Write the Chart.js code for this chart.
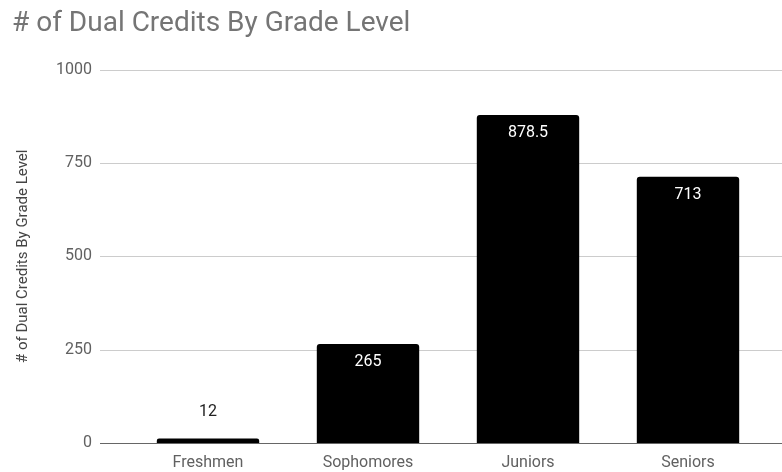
<!DOCTYPE html>
<html>
<head>
<meta charset="utf-8">
<script src="https://cdn.jsdelivr.net/npm/chart.js@4"></script>
<style>
  html, body { margin: 0; padding: 0; background: #fff; overflow: hidden; }
  #wrap { position: absolute; left: 0; top: 0; width: 782px; height: 472px; }
  canvas { display: block; }
</style>
</head>
<body>
<div id="wrap"><canvas id="creditsChart"></canvas></div>
<script>
// chart data
const grades = ['Freshmen', 'Sophomores', 'Juniors', 'Seniors'];
const credits = [12, 265, 878.5, 713];
const yTicks = [0, 250, 500, 750, 1000];

const chartTitle = '# of Dual Credits By Grade Level';
const axisTitle = '# of Dual Credits By Grade Level';

// horizontal grid lines that run past the plot area, like the original
const gridLines = {
  id: 'gridLines',
  beforeDatasetsDraw(chart) {
    const { ctx, scales: { y } } = chart;
    ctx.save();
    ctx.lineWidth = 1;
    ctx.strokeStyle = '#cccccc';
    yTicks.forEach(v => {
      if (v === 0) return;
      const py = Math.round(y.getPixelForValue(v)) + 0.5;
      ctx.beginPath();
      ctx.moveTo(100, py);
      ctx.lineTo(chart.width, py);
      ctx.stroke();
    });
    ctx.restore();
  },
  afterDatasetsDraw(chart) {
    const { ctx, scales: { y } } = chart;
    const py = Math.round(y.getPixelForValue(0)) + 0.5;
    ctx.save();
    ctx.strokeStyle = '#666666';
    ctx.lineWidth = 1;
    ctx.beginPath();
    ctx.moveTo(100, py);
    ctx.lineTo(chart.width, py);
    ctx.stroke();
    ctx.restore();
  }
};

// value labels on the bars
const barLabels = {
  id: 'barLabels',
  afterDatasetsDraw(chart) {
    const { ctx } = chart;
    const meta = chart.getDatasetMeta(0);
    ctx.save();
    ctx.font = '16px Roboto';
    ctx.textAlign = 'center';
    ctx.textBaseline = 'middle';
    meta.data.forEach((bar, i) => {
      const h = bar.base - bar.y;
      if (h > 30) {
        ctx.fillStyle = '#ffffff';
        ctx.fillText(credits[i], bar.x, bar.y + 18);
      } else {
        ctx.fillStyle = '#222222';
        ctx.fillText(credits[i], bar.x, bar.y - 27);
      }
    });
    ctx.restore();
  }
};

const ctx = document.getElementById('creditsChart').getContext('2d');
new Chart(ctx, {
  type: 'bar',
  data: {
    labels: grades,
    datasets: [{
      label: axisTitle,
      data: credits,
      backgroundColor: '#000000',
      borderRadius: 3,
      borderSkipped: 'bottom',
      categoryPercentage: 1,
      barPercentage: 0.64
    }]
  },
  options: {
    responsive: true,
    maintainAspectRatio: false,
    animation: false,
    layout: { padding: { left: 12, right: 14, top: 0, bottom: 0 } },
    plugins: {
      legend: { display: false },
      tooltip: { enabled: false },
      title: {
        display: true,
        text: chartTitle,
        align: 'start',
        color: '#757575',
        font: { family: 'Roboto', size: 28, weight: 'normal' },
        padding: { top: 7, bottom: 29 }
      }
    },
    scales: {
      x: {
        grid: { display: false, drawTicks: false },
        border: { display: false },
        ticks: {
          color: '#616161',
          font: { family: 'Roboto', size: 16 },
          padding: 10
        },
        afterFit(scale) { scale.height = 29; }
      },
      y: {
        min: 0,
        max: 1000,
        afterBuildTicks(scale) { scale.ticks = yTicks.map(v => ({ value: v })); },
        // tick length (not tick padding) pushes labels away from the plot,
        // so the bottom of the plot isn't padded
        grid: { display: false, drawTicks: true, tickLength: 36 },
        border: { display: false },
        ticks: {
          color: '#616161',
          font: { family: 'Roboto', size: 16 },
          padding: 0,
          callback: v => String(v)
        },
        title: {
          display: true,
          text: axisTitle,
          color: '#444444',
          font: { family: 'Roboto', size: 15 },
          padding: { top: 2, bottom: 0 }
        },
        afterFit(scale) { scale.width = 116; }
      }
    }
  },
  plugins: [gridLines, barLabels]
});
</script>
</body>
</html>
